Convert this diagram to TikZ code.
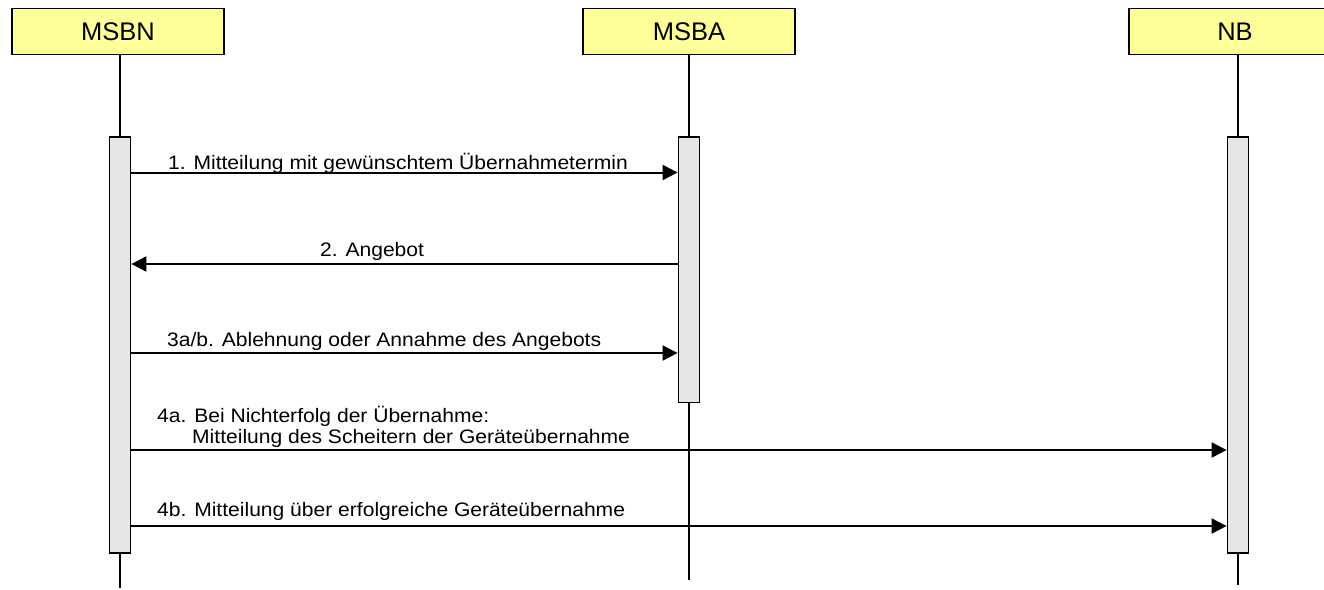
\documentclass[tikz,border=0pt]{standalone}
\usepackage{fontspec}
\setmainfont{Liberation Sans}
\newfontfamily\lblfont[FakeStretch=1.08]{Liberation Sans}
\usetikzlibrary{arrows.meta}
\definecolor{hdrfill}{HTML}{FFFF99}
\definecolor{barfill}{HTML}{E6E6E6}
\tikzset{
  header/.style={draw=black, line width=1.3pt, fill=hdrfill, minimum width=212pt, minimum height=46pt, inner sep=0pt, font=\fontsize{25.5}{30}\selectfont},
  actbar/.style={draw=black, line width=1.3pt, fill=barfill, minimum width=21.5pt, inner sep=0pt},
  lifeline/.style={draw=black, line width=1.4pt},
  msg/.style={draw=black, line width=2pt, -{Triangle[length=15pt,width=15pt]}},
  lbl/.style={anchor=base west, inner sep=0pt, font=\lblfont\fontsize{19.5}{21}\selectfont}
}
\begin{document}
\begin{tikzpicture}[x=1pt,y=-1pt]
\useasboundingbox (0,0) rectangle (1324,589);
% headers
\node[header] (hN) at (118,31.5) {MSBN};
\node[header] (hA) at (689,31.5) {MSBA};
\node[header] (hB) at (1235,31.5) {NB};
% activation bars
\node[actbar, minimum height=416pt] (bN) at (120,345) {};
\node[actbar, minimum height=265.7pt] (bA) at (689,269.85) {};
\node[actbar, minimum height=416pt] (bB) at (1238,345) {};
% lifeline ends
\coordinate (eN) at (120,588);
\coordinate (eA) at (689,580);
\coordinate (eB) at (1238,585);
% lifelines
\draw[lifeline] (hN.south -| bN.center) -- (bN.north);
\draw[lifeline] (bN.south) -- (eN);
\draw[lifeline] (hA.south -| bA.center) -- (bA.north);
\draw[lifeline] (bA.south) -- (eA);
\draw[lifeline] (hB.south -| bB.center) -- (bB.north);
\draw[lifeline] (bB.south) -- (eB);
% messages
\draw[msg] (bN.east |- 0,172.5) -- (bA.west |- 0,172.5);
\draw[msg] (bA.west |- 0,264) -- (bN.east |- 0,264);
\draw[msg] (bN.east |- 0,353) -- (bA.west |- 0,353);
\draw[msg] (bN.east |- 0,450) -- (bB.west |- 0,450);
\draw[msg] (bN.east |- 0,526) -- (bB.west |- 0,526);
% labels
\node[lbl] (l1) at (168,169) {1. Mitteilung mit gewünschtem Übernahmetermin};
\node[lbl] (l2) at (320,256.5) {2. Angebot};
\node[lbl] (l3) at (167,346.5) {3a/b. Ablehnung oder Annahme des Angebots};
\node[lbl] (l4a) at (157,422) {4a. Bei Nichterfolg der Übernahme:};
\node[lbl] (l4a2) at (192,443) {Mitteilung des Scheitern der Geräteübernahme};
\node[lbl] (l4b) at (157,516.5) {4b. Mitteilung über erfolgreiche Geräteübernahme};
\end{tikzpicture}
\end{document}
